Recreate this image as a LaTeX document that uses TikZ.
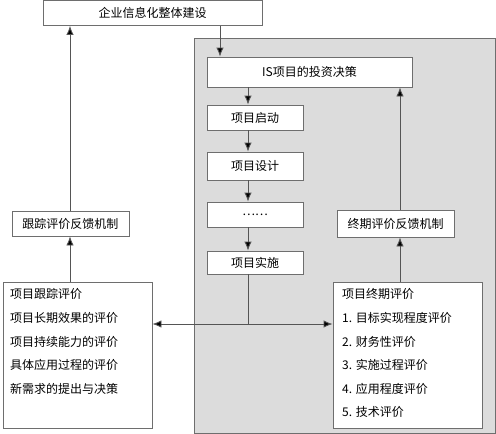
\documentclass[tikz,border=0pt]{standalone}
\usepackage{fontspec}
\setmainfont{Noto Sans CJK SC}
\usetikzlibrary{arrows.meta,calc}
\definecolor{panelgray}{HTML}{DCDCDC}
\definecolor{edgegray}{HTML}{6E6E6E}
\definecolor{linegray}{HTML}{555555}
\tikzset{
  box/.style={draw=edgegray, line width=0.9pt, fill=white, inner sep=0pt, font=\fontsize{12}{14}\selectfont},
  arr/.style={draw=linegray, line width=0.9pt, -{Latex[length=9pt,width=7.5pt,fill=black]}},
  dblarr/.style={draw=linegray, line width=0.9pt, {Latex[length=9pt,width=7.5pt,fill=black]}-{Latex[length=9pt,width=7.5pt,fill=black]}},
  plain/.style={draw=linegray, line width=0.9pt},
  listtext/.style={inner sep=0pt, anchor=north west, align=left, font=\fontsize{12}{23.6}\selectfont}
}
\begin{document}
\begin{tikzpicture}[x=1pt,y=-1pt]
\useasboundingbox (0,0) rectangle (496,434);
% gray panel
\draw[draw=edgegray, line width=0.9pt, fill=panelgray] (194,38) rectangle (495,433);
% boxes
\node[box, minimum width=219pt, minimum height=25pt] (top) at (152.5,13) {企业信息化整体建设};
\node[box, minimum width=205pt, minimum height=30pt] (is) at (309.5,72) {IS项目的投资决策};
\node[box, minimum width=96pt, minimum height=25pt] (qd) at (255,117.5) {项目启动};
\node[box, minimum width=96pt, minimum height=28pt] (sj) at (255,166) {项目设计};
\node[box, minimum width=96pt, minimum height=25pt] (dots) at (255,214.5) {……};
\node[box, minimum width=96pt, minimum height=23pt] (ss) at (255,262.5) {项目实施};
\node[box, minimum width=117pt, minimum height=27pt] (zqfk) at (395.5,223.5) {终期评价反馈机制};
\node[box, minimum width=117pt, minimum height=25pt] (gzfk) at (70.5,223.5) {跟踪评价反馈机制};
\node[box, minimum width=149pt, minimum height=146pt] (lbox) at (77.5,355) {};
\node[box, minimum width=149pt, minimum height=146pt] (rbox) at (407.5,355) {};
\node[listtext] (ltext) at (10,288.5) {项目跟踪评价\\项目长期效果的评价\\项目持续能力的评价\\具体应用过程的评价\\新需求的提出与决策};
\node[listtext] (rtext) at (342,288.5) {项目终期评价\\1. 目标实现程度评价\\2. 财务性评价\\3. 实施过程评价\\4. 应用程度评价\\5. 技术评价};
% x positions
\coordinate (xa) at (220,0);
\coordinate (xb) at (248,0);
\coordinate (xr) at (400,0);
\coordinate (xl) at (70,0);
\coordinate (mid) at (248,324);
% connectors
\draw[arr] (top.south -| xa) -- (is.north -| xa);
\draw[arr] (is.south -| xb) -- (qd.north -| xb);
\draw[arr] (qd.south -| xb) -- (sj.north -| xb);
\draw[arr] (sj.south -| xb) -- (dots.north -| xb);
\draw[arr] (dots.south -| xb) -- (ss.north -| xb);
\draw[plain] (ss.south -| xb) -- (mid);
\draw[dblarr] (lbox.east |- mid) -- (rbox.west |- mid);
\draw[arr] (rbox.north -| xr) -- (zqfk.south -| xr);
\draw[arr] (zqfk.north -| xr) -- (is.south -| xr);
\draw[arr] (lbox.north -| xl) -- (gzfk.south -| xl);
\draw[arr] (gzfk.north -| xl) -- (top.south -| xl);
\end{tikzpicture}
\end{document}
